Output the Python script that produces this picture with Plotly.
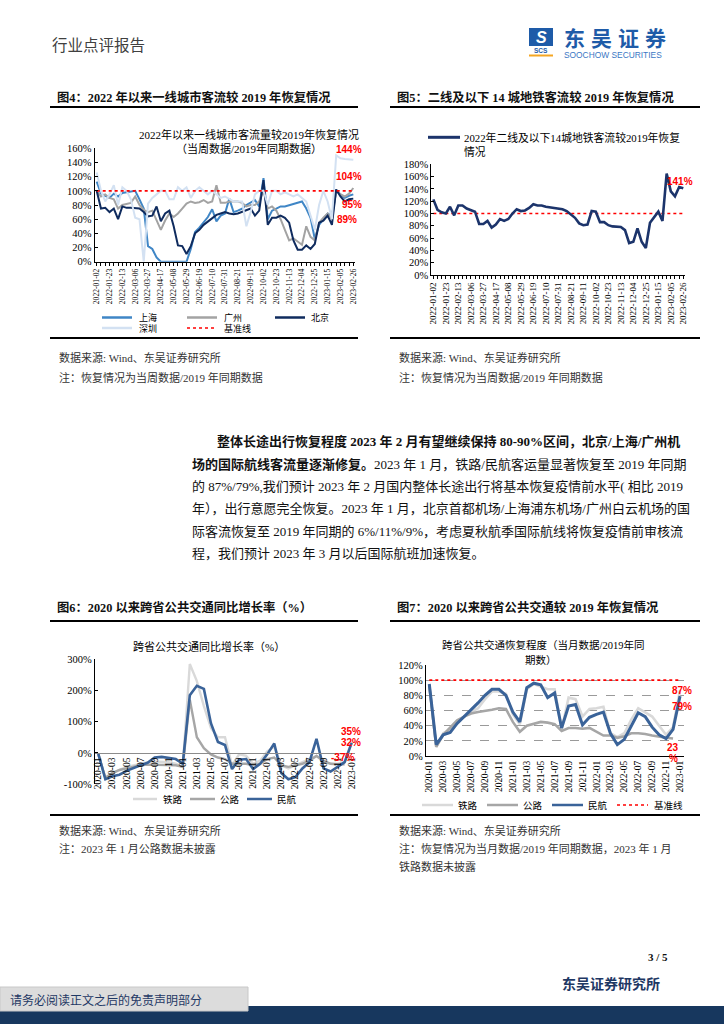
import plotly.graph_objects as go
import pandas as pd

W, H = 724, 1024
def X(px): return px / W
def Y(py): return 1 - py / H

SERIF = "Liberation Serif, Noto Sans CJK SC"
CJK = "Noto Sans CJK SC"
SANS = "Liberation Sans, Arial"

# ---------------- data ----------------
weeks = [d.strftime('%Y-%m-%d') for d in pd.date_range('2022-01-02', periods=61, freq='7D')]
week_ticks = weeks[::3]
months = [d.strftime('%Y-%m') for d in pd.date_range('2020-01-01', periods=37, freq='MS')]
month_ticks = months[::2]

# Fig4: first-tier city traffic vs 2019 (%)
shanghai = [113,96,93,90,96,92,97,98,100,100, 88,75,22,18,6,0,0,0,0,0,
            0,0,18,42,48,55,63,74,57,65, 68,89,70,72,75,80,84,87,78,118,
            60,72,75,78,78,80,82,84,85,75, 62,32,52,60,68,65,100,95,90,93, 95]
guangzhou = [100,92,95,90,88,75,80,82,83,92, 80,73,70,72,58,45,58,68,63,68,
             75,82,85,83,84,87,83,85,108,83, 83,85,85,85,83,78,80,80,85,100,
             75,78,72,60,45,30,33,28,24,50, 35,30,55,62,68,60,100,95,92,96, 104]
beijing = [100,75,76,70,75,60,78,76,76,76, 75,70,64,65,78,57,68,72,50,23,
           22,11,22,40,45,52,57,62,66,68, 70,68,67,68,70,72,75,65,72,115,
           52,62,62,65,62,55,30,17,17,23, 18,25,55,58,65,52,102,92,85,88, 89]
shenzhen = [126,100,85,95,108,80,105,100,88,62, 60,0,82,90,95,100,100,88,88,105,
            100,105,90,100,105,100,95,100,95,90, 92,88,85,85,85,50,70,95,100,100,
            80,100,100,95,98,95,92,95,90,85, 65,45,80,100,85,60,150,146,145,144, 144]
baseline = 100

# Fig5: 14 second-tier cities metro traffic vs 2019 (%)
metro14 = [123,106,102,100,111,97,113,113,108,106, 103,83,83,88,77,82,91,88,91,100,
           107,104,105,109,115,113,113,111,110,110, 108,107,104,98,93,84,81,82,104,103,
           86,86,81,79,78,78,73,52,54,76, 54,44,85,95,103,88,165,136,128,143, 141]

# Fig6: cross-province public transport YoY growth (%)
rail_yoy = [-5,-80,-65,-55,-45,-40,-35,-30,-28,-28, -30,-35,-45,285,230,150,80,50,50,-40,
            -5,-10,-35,-25,5,20,-40,-50,-40,-30, -20,-10,-30,-35,-35,-30,35]
road_yoy = [-5,-80,-65,-55,-50,-45,-40,-38,-38,-38, -38,-40,-45,170,50,15,-5,-15,-20,-35,
            -35,-35,-40,-35,-20,-15,-40,-45,-40,-35, -25,-10,-25,-35,-37,-37,None]
air_yoy = [-3,-85,-75,-70,-58,-48,-40,-32,-15,-13, -17,-20,-35,185,215,205,95,35,25,-52,
           -22,-20,-52,-35,-5,30,-65,-85,-78,-50, -30,45,-50,-60,-45,-30,32]

# Fig7: cross-province public transport recovery vs 2019 (%)
rail_rec = [94,12,30,35,45,52,58,63,75,85, 85,82,55,42,88,95,92,88,88,35,
            77,75,52,62,63,65,30,25,30,48, 63,57,52,40,28,38,87]
road_rec = [93,12,28,38,47,52,56,58,60,61, 63,62,45,32,40,43,45,44,42,33,
            37,37,36,37,32,27,27,24,26,30, 30,29,27,25,24,23,None]
air_rec = [95,15,28,31,43,52,60,70,80,88, 88,80,58,45,90,96,94,77,83,37,
           66,68,41,51,55,58,30,15,22,40, 57,52,38,28,23,35,79]

C_SH, C_GZ, C_BJ, C_SZ = '#3f86c6', '#a3a3a3', '#0f2b5e', '#d3e1f2'
C_NAVY = '#1c346b'
C_RAIL, C_ROAD, C_AIR = '#d9d9d9', '#a6a6a6', '#3a6399'
RED = '#ff0000'

fig = go.Figure()

def line(x, y, color, width, xa, ya, dash=None):
    fig.add_trace(go.Scatter(x=x, y=y, mode='lines', xaxis=xa, yaxis=ya,
                             line=dict(color=color, width=width, dash=dash),
                             showlegend=False, hoverinfo='skip', connectgaps=False))

# Fig4
line(weeks, shanghai, C_SH, 2, 'x', 'y')
line(weeks, guangzhou, C_GZ, 2, 'x', 'y')
line(weeks, beijing, C_BJ, 2, 'x', 'y')
line(weeks, shenzhen, C_SZ, 2, 'x', 'y')
line(weeks, [baseline] * len(weeks), RED, 1.6, 'x', 'y', 'dot')
# Fig5
line(weeks, [baseline] * len(weeks), RED, 1.6, 'x2', 'y2', 'dot')
line(weeks, metro14, C_NAVY, 2.6, 'x2', 'y2')
# Fig6
line(months, rail_yoy, C_RAIL, 2.4, 'x3', 'y3')
line(months, road_yoy, C_ROAD, 2.4, 'x3', 'y3')
line(months, air_yoy, C_AIR, 2.6, 'x3', 'y3')
# Fig7
line(months, rail_rec, C_RAIL, 2.6, 'x4', 'y4')
line(months, road_rec, C_ROAD, 2.6, 'x4', 'y4')
line(months, air_rec, C_AIR, 3.0, 'x4', 'y4')
line(months, [baseline] * len(months), RED, 1.6, 'x4', 'y4', 'dot')

# ---------------- axes ----------------
tickfont_y = dict(family=SERIF, size=10.5, color='#000')

def week_axis(x0, x1, y_anchor, size):
    return dict(domain=[X(x0), X(x1)], anchor=y_anchor, type='category',
                range=[-0.5, len(weeks) - 0.5],
                tickvals=weeks, ticktext=[w if w in week_ticks else '' for w in weeks],
                tickangle=-90, ticks='outside', ticklen=3, tickcolor='#000',
                showline=True, linecolor='#000', linewidth=1, showgrid=False,
                zeroline=False, tickfont=dict(family=SERIF, size=size, color='#000'),
                automargin=False, fixedrange=True)

def y_axis(y_top, y_bot, rng, vals, x_anchor, grid=False):
    d = dict(domain=[Y(y_bot), Y(y_top)], anchor=x_anchor, range=rng,
             tickvals=vals, ticktext=[f'{v}%' for v in vals],
             ticks='inside', ticklen=3, tickcolor='#000',
             showline=True, linecolor='#000', linewidth=1,
             showgrid=grid, zeroline=False, tickfont=tickfont_y,
             automargin=False, fixedrange=True)
    if grid:
        d.update(gridcolor='#9a9a9a', griddash='dash', gridwidth=1, ticks='')
    return d

fig.update_layout(
    xaxis=week_axis(94.56, 355.44, 'y', 7.6),
    yaxis=y_axis(148.3, 261.7, [0, 160], list(range(0, 161, 20)), 'x'),
    xaxis2=week_axis(431.25, 685.4, 'y2', 9),
    yaxis2=y_axis(164.3, 275.0, [0, 180], list(range(0, 181, 20)), 'x2'),
    xaxis3=dict(domain=[X(94.8), X(355.2)], anchor='free', position=Y(752.7),
                type='category', range=[-0.5, len(months) - 0.5],
                tickvals=month_ticks, ticktext=month_ticks, tickangle=-90, ticks='',
                showline=True, linecolor='#8c8c8c', linewidth=1, showgrid=False,
                zeroline=False, tickfont=dict(family=SERIF, size=9.5, color='#000'),
                automargin=False, fixedrange=True),
    yaxis3=y_axis(659.3, 784.0, [-100, 300], [-100, 0, 100, 200, 300], 'x3'),
    xaxis4=dict(domain=[X(425.8), X(683.5)], anchor='y4', type='category',
                range=[-0.5, len(months) - 0.5],
                tickvals=month_ticks, ticktext=month_ticks, tickangle=-90, ticks='',
                showline=True, linecolor='#000', linewidth=1, showgrid=False,
                zeroline=False, tickfont=dict(family=SERIF, size=9.5, color='#000'),
                automargin=False, fixedrange=True),
    yaxis4=y_axis(665.0, 756.0, [0, 120], list(range(0, 121, 20)), 'x4', grid=True),
)

# ---------------- decorations ----------------
shapes = []
annots = []

def hline(x0, x1, y, color='#000', width=1.8, dash=None):
    shapes.append(dict(type='line', xref='paper', yref='paper', x0=X(x0), x1=X(x1),
                       y0=Y(y), y1=Y(y), line=dict(color=color, width=width, dash=dash)))

def rect(x0, y0, x1, y1, fill, lw=0, lc=None):
    shapes.append(dict(type='rect', xref='paper', yref='paper', x0=X(x0), x1=X(x1),
                       y0=Y(y1), y1=Y(y0), fillcolor=fill,
                       line=dict(width=lw, color=lc or fill), layer='below'))

def txt(x, y, s, size=11, color='#000', family=SERIF, xanchor='left', yanchor='middle'):
    annots.append(dict(x=X(x), y=Y(y), xref='paper', yref='paper', text=s, showarrow=False,
                       xanchor=xanchor, yanchor=yanchor,
                       font=dict(size=size, color=color, family=family)))

# header
txt(50, 44, '行业点评报告', 15.5, '#404040', CJK)
rect(529, 28, 553, 46, '#1e5ba8')
txt(541, 37, '<b><i>S</i></b>', 16, '#ffffff', SANS, 'center')
txt(541, 50.5, '<b>SCS</b>', 6.5, '#1e5ba8', SANS, 'center')
rect(529, 54.5, 553, 56.5, '#f5a623')
for i, ch in enumerate('东吴证券'):
    txt(574 + 27 * i, 37, f'<b>{ch}</b>', 21, '#1e5ba8', CJK, 'center')
txt(562, 55, 'SOOCHOW SECURITIES', 8.4, '#3a77c4', SANS)

# figure captions
CAP = 12.3
txt(55, 97, '<b>图4：2022 年以来一线城市客流较 2019 年恢复情况</b>', CAP, '#111', SERIF)
txt(395, 97, '<b>图5：二线及以下 14 城地铁客流较 2019 年恢复情况</b>', CAP, '#111', SERIF)
hline(50, 358, 107)
hline(390, 700, 107)
hline(50, 358, 338)
hline(390, 700, 338)

# fig4 inner title and legend
txt(249, 134, '2022年以来一线城市客流量较2019年恢复情况', 11, '#000', SERIF, 'center')
txt(249, 148, '（当周数据/2019年同期数据）', 11, '#000', SERIF, 'center')
LG1, LG2 = 317.5, 328
hline(102, 132, LG1, C_SH, 2.5)
txt(137, LG1, '上海', 9, '#000', CJK)
hline(187, 217, LG1, C_GZ, 2.5)
txt(222, LG1, '广州', 9, '#000', CJK)
hline(275, 305, LG1, C_BJ, 2.5)
txt(309, LG1, '北京', 9, '#000', CJK)
hline(102, 132, LG2, C_SZ, 2.5)
txt(137, LG2, '深圳', 9, '#000', CJK)
hline(187, 217, LG2, RED, 1.6, 'dot')
txt(222, LG2, '基准线', 9, '#000', CJK)
for s, xx, yy in [('144%', 349, 149), ('104%', 349, 176.5), ('95%', 352, 204), ('89%', 347, 219)]:
    txt(xx, yy, f'<b>{s}</b>', 10, RED, SANS, 'center')

# fig5 legend + label
hline(428, 460, 137.3, C_NAVY, 3)
txt(462, 137.3, '2022年二线及以下14城地铁客流较2019年恢复', 10.8, '#000', SERIF)
txt(462, 152.3, '情况', 10.8, '#000', SERIF)
txt(680, 181, '<b>141%</b>', 10, RED, SANS, 'center')

# sources
for x0 in (57, 397):
    txt(x0, 357, '数据来源: Wind、东吴证券研究所', 11, '#333', SERIF)
    txt(x0, 377, '注：恢复情况为当周数据/2019 年同期数据', 11, '#333', SERIF)

# paragraph
para = [
    (215, 441, '<b>整体长途出行恢复程度 2023 年 2 月有望继续保持 80-90%区间，北京/上海/广州机</b>'),
    (190, 464, '<b>场的国际航线客流量逐渐修复。</b>2023 年 1 月，铁路/民航客运量显著恢复至 2019 年同期'),
    (190, 486, '的 87%/79%,我们预计 2023 年 2 月国内整体长途出行将基本恢复疫情前水平( 相比 2019'),
    (190, 508, '年），出行意愿完全恢复。2023 年 1 月，北京首都机场/上海浦东机场/广州白云机场的国'),
    (190, 531, '际客流恢复至 2019 年同期的 6%/11%/9%，考虑夏秋航季国际航线将恢复疫情前审核流'),
    (190, 553, '程，我们预计 2023 年 3 月以后国际航班加速恢复。'),
]
for x0, y0, s in para:
    txt(x0, y0, s, 13, '#111', SERIF)

# fig6/7 captions
txt(55, 607, '<b>图6：2020 以来跨省公共交通同比增长率（%）</b>', CAP, '#111', SERIF)
txt(395, 607, '<b>图7：2020 以来跨省公共交通较 2019 年恢复情况</b>', CAP, '#111', SERIF)
hline(50, 358, 621)
hline(390, 700, 621)

# fig6 title, legend, labels
txt(209, 646, '跨省公共交通同比增长率（%）', 11, '#000', SERIF, 'center')
hline(133, 157, 799, C_RAIL, 2.5)
txt(161, 799, '铁路', 9.5, '#000', CJK)
hline(190, 215, 799, C_ROAD, 2.5)
txt(218, 799, '公路', 9.5, '#000', CJK)
hline(247, 272, 799, C_AIR, 2.5)
txt(275, 799, '民航', 9.5, '#000', CJK)
txt(351, 731.5, '<b>35%</b>', 10, RED, SANS, 'center')
txt(351, 742, '<b>32%</b>', 10, RED, SANS, 'center')
txt(342, 757, '<b>-37%</b>', 10, RED, SANS, 'center')

# fig7 title, legend, labels
txt(543, 645, '跨省公共交通恢复程度（当月数据/2019年同', 10.5, '#000', SERIF, 'center')
txt(541, 660, '期数）', 10.5, '#000', SERIF, 'center')
hline(422, 453, 805, C_RAIL, 2.5)
txt(456, 805, '铁路', 9.5, '#000', CJK)
hline(487, 518, 805, C_ROAD, 2.5)
txt(521, 805, '公路', 9.5, '#000', CJK)
hline(552, 583, 805, C_AIR, 2.5)
txt(586, 805, '民航', 9.5, '#000', CJK)
hline(617, 648, 805, RED, 1.6, 'dot')
txt(652, 805, '基准线', 9.5, '#000', CJK)
txt(682, 690, '<b>87%</b>', 10, RED, SANS, 'center')
txt(682, 706, '<b>79%</b>', 10, RED, SANS, 'center')
txt(673, 747, '<b>23</b>', 10, RED, SANS, 'center')
txt(673, 758, '<b>%</b>', 10, RED, SANS, 'center')

# bottom rules and sources
hline(50, 358, 815)
hline(390, 700, 815)
txt(57, 830, '数据来源: Wind、东吴证券研究所', 11, '#333', SERIF)
txt(57, 848, '注：2023 年 1 月公路数据未披露', 11, '#333', SERIF)
txt(397, 830, '数据来源: Wind、东吴证券研究所', 11, '#333', SERIF)
txt(397, 848, '注：恢复情况为当月数据/2019 年同期数据，2023 年 1 月', 11, '#333', SERIF)
txt(397, 866, '铁路数据未披露', 11, '#333', SERIF)

# footer
txt(670, 957, '<b>3 / 5</b>', 11, '#111', SERIF, 'right')
txt(662, 983, '<b>东吴证券研究所</b>', 14, '#1f3864', CJK, 'right')
rect(0, 1006, 724, 1024, '#17375e')
shapes.append(dict(type='rect', xref='paper', yref='paper', x0=X(0), x1=X(248),
                   y0=Y(1011), y1=Y(987), fillcolor='#dcdcdc',
                   line=dict(width=1, color='#c8c8c8'), layer='above'))
txt(8, 999, '请务必阅读正文之后的免责声明部分', 12, '#1f3864', CJK)

fig.update_layout(
    width=W, height=H, margin=dict(l=0, r=0, t=0, b=0),
    paper_bgcolor='#ffffff', plot_bgcolor='rgba(0,0,0,0)',
    showlegend=False, shapes=shapes, annotations=annots,
    font=dict(family=SERIF),
)

fig.write_html("out.html", config={'displayModeBar': False, 'staticPlot': True},
               post_script="document.body.style.margin='0';document.body.style.overflow='hidden';")
